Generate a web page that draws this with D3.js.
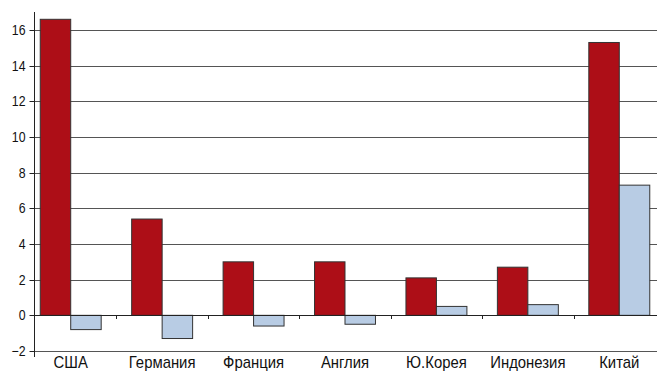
<!DOCTYPE html>
<html>
<head>
<meta charset="utf-8">
<script src="https://cdn.jsdelivr.net/npm/d3@7"></script>
<style>
  html, body { margin: 0; padding: 0; background: #fff; }
  svg { display: block; }
</style>
</head>
<body>
<svg id="chart" width="657" height="372"></svg>
<script>
// Categories and the two series (percent)
const categories = ["США", "Германия", "Франция", "Англия", "Ю.Корея", "Индонезия", "Китай"];
const seriesA = [16.6, 5.4, 3.0, 3.0, 2.1, 2.7, 15.3];
const seriesB = [-0.8, -1.3, -0.6, -0.5, 0.5, 0.6, 7.3];
const yTicks = [-2, 0, 2, 4, 6, 8, 10, 12, 14, 16];

const colorA = "#ad0e17";
const colorB = "#b8cce4";
const font = "'Liberation Sans', Arial, sans-serif";

const svg = d3.select("#chart");
const W = 657, H = 372;
const axisX = 34;

const y = d3.scaleLinear().domain([-2, 16]).range([351, 30]);
const x = d3.scaleBand().domain(categories).range([25, 665]).padding(0);
const x1 = d3.scaleBand().domain(["a", "b"]).range([0, x.bandwidth()]).paddingInner(0).paddingOuter(0.5);

// horizontal gridlines
svg.append("g").selectAll("line").data(yTicks).join("line")
  .attr("x1", axisX).attr("x2", W)
  .attr("y1", d => Math.round(y(d)) + 0.5).attr("y2", d => Math.round(y(d)) + 0.5)
  .attr("stroke", d => d === 0 ? "#222" : "#555").attr("stroke-width", 1);

// y axis
const yAxis = d3.axisLeft(y).tickValues(yTicks).tickSize(5).tickPadding(4).tickFormat(d3.format("d"));
const gy = svg.append("g").attr("transform", `translate(${axisX + 0.5},0)`).call(yAxis);
gy.select(".domain").remove();
gy.selectAll(".tick line").attr("stroke", "#222");
gy.selectAll(".tick").attr("transform", d => `translate(0,${Math.round(y(d)) + 0.5})`);
// condensed-looking tick labels
gy.selectAll(".tick text")
  .attr("x", null)
  .attr("transform", "translate(-9,0) scale(0.88,1)")
  .attr("font-family", font)
  .attr("font-size", 14).attr("fill", "#111");
svg.append("line")
  .attr("x1", axisX + 0.5).attr("x2", axisX + 0.5)
  .attr("y1", 12).attr("y2", 357)
  .attr("stroke", "#222");

// bars
const groups = svg.append("g").selectAll("g").data(categories).join("g")
  .attr("transform", d => `translate(${x(d)},0)`);

function bar(sel, vals, key, color) {
  sel.append("rect")
    .attr("x", x1(key))
    .attr("width", x1.bandwidth())
    .attr("y", (d, i) => y(Math.max(0, vals[i])))
    .attr("height", (d, i) => Math.abs(y(vals[i]) - y(0)))
    .attr("fill", color)
    .attr("stroke", "#333").attr("stroke-width", 1);
}
bar(groups, seriesA, "a", colorA);
bar(groups, seriesB, "b", colorB);

// zero line and category ticks
svg.append("line")
  .attr("x1", axisX).attr("x2", W)
  .attr("y1", Math.round(y(0)) + 0.5).attr("y2", Math.round(y(0)) + 0.5)
  .attr("stroke", "#222");
svg.append("g").selectAll("line")
  .data(categories.slice(1))
  .join("line")
  .attr("x1", d => Math.round(x(d)) + 0.5).attr("x2", d => Math.round(x(d)) + 0.5)
  .attr("y1", Math.round(y(0))).attr("y2", Math.round(y(0)) + 4)
  .attr("stroke", "#222");

// category labels, slightly condensed
svg.append("g").selectAll("text").data(categories).join("text")
  .attr("transform", d => `translate(${x(d) + x.bandwidth() / 2},368) scale(0.93,1)`)
  .attr("text-anchor", "middle")
  .attr("font-family", font)
  .attr("font-size", 16).attr("fill", "#111")
  .text(d => d);
</script>
</body>
</html>
